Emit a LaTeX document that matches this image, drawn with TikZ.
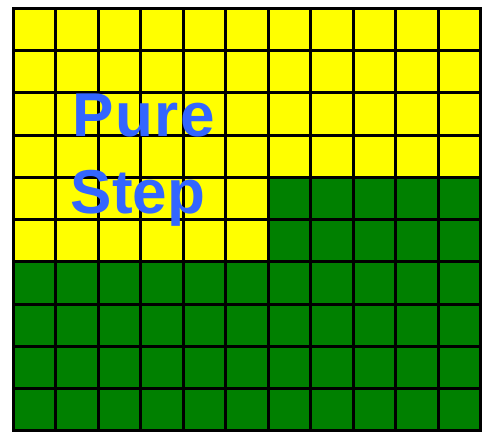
\documentclass[tikz,border=0pt]{standalone}
\usepackage{fontspec}
\setmainfont{Liberation Sans}
\definecolor{cellyellow}{RGB}{255,255,0}
\definecolor{cellgreen}{RGB}{0,128,0}
\definecolor{textblue}{RGB}{51,102,255}
\tikzset{
  gridline/.style={line width=3pt, black},
  bigword/.style={anchor=base west, inner sep=0pt, text=textblue, font=\fontsize{62}{62}\selectfont\bfseries}
}
\begin{document}
\begin{tikzpicture}[x=1pt,y=-1pt]
\useasboundingbox (0,0) rectangle (491,433);
\begin{scope}[shift={(13.5,8.5)}, x=42.45pt, y=-42.25pt]
  \fill[cellgreen] (0,0) rectangle (11,10);
  \fill[cellyellow] (0,0) -- (11,0) -- (11,4) -- (6,4) -- (6,6) -- (0,6) -- cycle;
  \foreach \i in {1,...,10} \draw[gridline] (\i,0) -- (\i,10);
  \foreach \j in {1,...,9} \draw[gridline] (0,\j) -- (11,\j);
  \draw[gridline] (0,0) rectangle (11,10);
\end{scope}
\node[bigword] (pure) at (72,136.7) {P\kern1.5pt u\kern1.5pt r\kern1.5pt e};
\node[bigword] (step) at (70.6,213.3) {Step};
\end{tikzpicture}
\end{document}
